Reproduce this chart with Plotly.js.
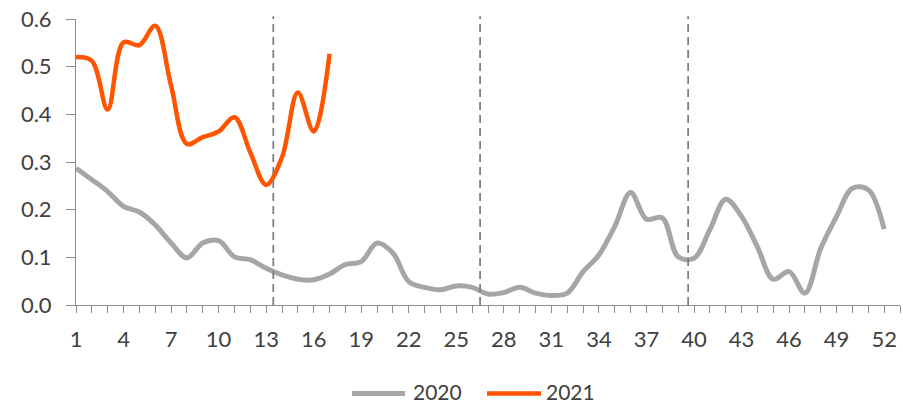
<!DOCTYPE html>
<html>
<head>
<meta charset="utf-8">
<script src="https://cdn.plot.ly/plotly-3.0.1.min.js"></script>
<style>
  html, body { margin: 0; padding: 0; background: #ffffff; }
  #chart { width: 903px; height: 405px; }
</style>
</head>
<body>
<div id="chart"></div>
<script>
// Week numbers 1..52
const weeks = Array.from({length: 52}, (_, i) => i + 1);

// Weekly values, 2020
const values2020 = [
  0.287, 0.263, 0.238, 0.207, 0.195, 0.168, 0.130, 0.099, 0.130, 0.135,
  0.101, 0.095, 0.077, 0.063, 0.054, 0.053, 0.065, 0.085, 0.091, 0.130,
  0.109, 0.049, 0.037, 0.032, 0.040, 0.037, 0.023, 0.026, 0.037, 0.025,
  0.020, 0.025, 0.070, 0.105, 0.165, 0.236, 0.180, 0.183, 0.101, 0.098,
  0.158, 0.222, 0.186, 0.122, 0.054, 0.070, 0.025, 0.119, 0.186, 0.245,
  0.242, 0.159
];

// Weekly values, 2021 (weeks 1..17)
const weeks2021 = weeks.slice(0, 17);
const values2021 = [
  0.520, 0.512, 0.410, 0.551, 0.545, 0.586, 0.460, 0.338, 0.352, 0.364,
  0.394, 0.320, 0.252, 0.310, 0.446, 0.364, 0.527
];

// Labelled week ticks
const tickWeeks = [1, 4, 7, 10, 13, 16, 19, 22, 25, 28, 31, 34, 37, 40, 43, 46, 49, 52];
const tickLabels = tickWeeks.map(String);

// Quarter dividers (dashed)
const quarterBreaks = [13.45, 26.5, 39.63];

const seriesNames = ['2020', '2021'];
const seriesColors = ['#A6A6A6', '#FF5500'];

const axisColor = '#8C8C8C';
const textColor = '#404040';
const fontFamily = 'Lato, "Open Sans", sans-serif';

const traces = [
  {
    x: weeks, y: values2020, name: seriesNames[0], type: 'scatter', mode: 'lines',
    line: {color: seriesColors[0], width: 5, shape: 'spline', smoothing: 1},
    showlegend: false, hoverinfo: 'x+y'
  },
  {
    x: weeks2021, y: values2021, name: seriesNames[1], type: 'scatter', mode: 'lines',
    line: {color: seriesColors[1], width: 4.5, shape: 'spline', smoothing: 1},
    showlegend: false, hoverinfo: 'x+y'
  }
];

// Plot area geometry in pixels, used for the hand-placed legend
const W = 903, H = 405;
const margin = {l: 76, r: 3, t: 19, b: 100};
const plotW = W - margin.l - margin.r;
const plotH = H - margin.t - margin.b;
const px = v => (v - margin.l) / plotW;
const py = v => (H - margin.b - v) / plotH;

const shapes = quarterBreaks.map(q => ({
  type: 'line', xref: 'x', yref: 'paper',
  x0: q, x1: q, y0: 0, y1: 1.01,
  line: {color: '#808080', width: 1.8, dash: '8px,5px'}
}));

// Legend: line samples + labels below the plot
const legendLineY = 393.5;
const legendTextY = 391.5;
const legendItems = [
  {x0: 352, x1: 405, tx: 412},
  {x0: 487, x1: 541, tx: 545}
];
const annotations = [];
legendItems.forEach((it, i) => {
  shapes.push({
    type: 'line', xref: 'paper', yref: 'paper',
    x0: px(it.x0), x1: px(it.x1), y0: py(legendLineY), y1: py(legendLineY),
    line: {color: seriesColors[i], width: i === 0 ? 5 : 4.5}
  });
  annotations.push({
    xref: 'paper', yref: 'paper', x: px(it.tx), y: py(legendTextY),
    xanchor: 'left', yanchor: 'middle', showarrow: false,
    borderpad: 0,
    text: seriesNames[i], font: {family: fontFamily, size: 21, color: textColor}
  });
});

const layout = {
  width: W, height: H,
  margin: margin,
  paper_bgcolor: '#ffffff', plot_bgcolor: '#ffffff',
  font: {family: fontFamily, size: 22, color: textColor},
  showlegend: false,
  xaxis: {
    range: [1, 53], fixedrange: true,
    tickmode: 'array', tickvals: tickWeeks, ticktext: tickLabels,
    ticks: 'outside', ticklen: 7, tickwidth: 1, tickcolor: axisColor,
    minor: {tickmode: 'linear', tick0: 1, dtick: 1, ticks: 'outside', ticklen: 7, tickwidth: 1, tickcolor: axisColor},
    showline: true, linecolor: axisColor, linewidth: 1,
    showgrid: false, zeroline: false,
    tickfont: {family: fontFamily, size: 22, color: textColor},
    ticklabelstandoff: 8
  },
  yaxis: {
    range: [0, 0.6], fixedrange: true,
    tickmode: 'linear', tick0: 0, dtick: 0.1, tickformat: '.1f',
    ticks: 'outside', ticklen: 9, tickwidth: 1, tickcolor: axisColor,
    showline: true, linecolor: axisColor, linewidth: 1,
    showgrid: false, zeroline: false,
    tickfont: {family: fontFamily, size: 22, color: textColor},
    ticklabelstandoff: 10
  },
  shapes: shapes,
  annotations: annotations
};

Plotly.newPlot('chart', traces, layout, {displayModeBar: false, staticPlot: true});
</script>
</body>
</html>
